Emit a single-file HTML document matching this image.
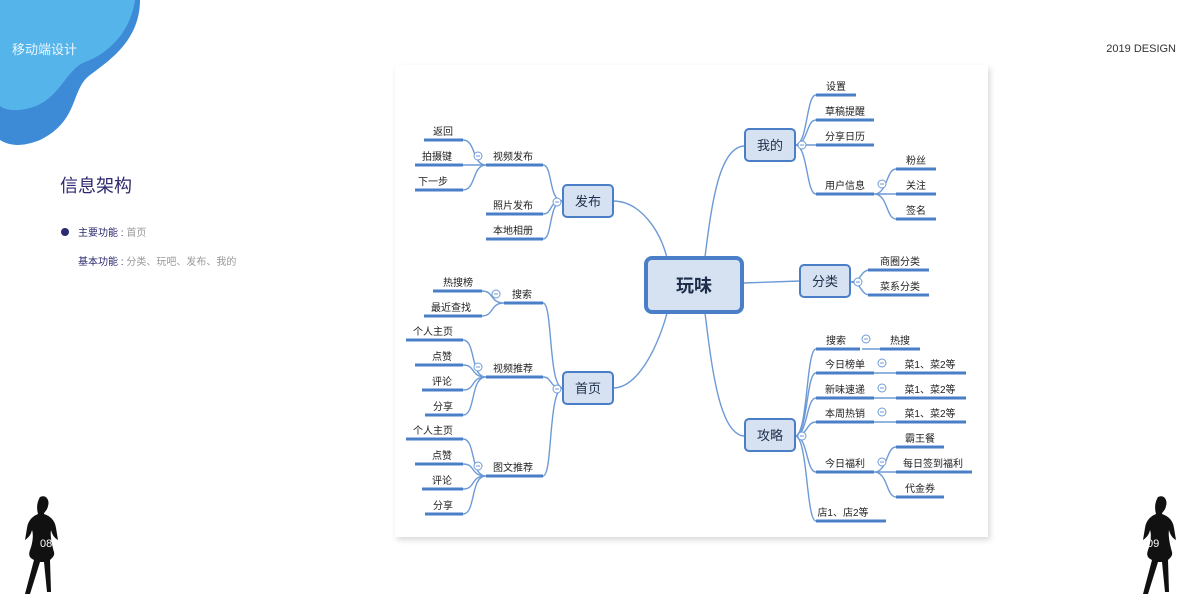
<!DOCTYPE html>
<html><head><meta charset="utf-8"><style>
html,body{margin:0;padding:0;background:#fff;}
svg{display:block;font-family:"Liberation Sans","Noto Sans CJK SC",sans-serif;}
.l{stroke:#4a7fc8;stroke-width:3;}
.c{fill:none;stroke:#6d9ad6;stroke-width:1.4;}
.t{font-size:10px;fill:#222;text-anchor:middle;}
.n{fill:#d6e2f2;stroke:#4a7fc8;stroke-width:2;}
.nt{font-size:13px;fill:#1d2d4a;text-anchor:middle;}
.o{fill:#fff;stroke:#6d9ad6;stroke-width:1;}
</style></head><body>
<svg width="1200" height="600" viewBox="0 0 1200 600">
<defs><filter id="sh" x="-5%" y="-5%" width="110%" height="110%"><feDropShadow dx="2" dy="3" stdDeviation="3" flood-color="#000" flood-opacity="0.15"/></filter>
<g id="m"><circle class="o" cx="0" cy="0" r="4"/><line x1="-2" y1="0" x2="2" y2="0" stroke="#6d9ad6" stroke-width="1"/></g></defs>
<!-- blob -->
<path d="M0 0 H140 C140 40 110 60 90 75 C70 90 80 120 40 140 C20 148 8 145 0 140 Z" fill="#3d8bd6"/>
<path d="M0 0 H135 C130 35 105 55 85 62 C65 70 60 100 30 108 C15 112 5 110 0 106 Z" fill="#55b4ea"/>
<text x="12" y="54" font-size="13" fill="#eaf6ff">移动端设计</text>
<text x="1176" y="52" font-size="11" fill="#333" text-anchor="end">2019 DESIGN</text>
<text x="60" y="192" font-size="18" fill="#2d2a6e">信息架构</text>
<circle cx="65" cy="232" r="4" fill="#2d2a6e"/>
<text x="78" y="236" font-size="10" fill="#2d2a6e">主要功能 : <tspan fill="#999">首页</tspan></text>
<text x="78" y="265" font-size="10" fill="#2d2a6e">基本功能 : <tspan fill="#999">分类、玩吧、发布、我的</tspan></text>
<!-- silhouettes -->
<g fill="#111">
<path d="M40 497 C46 494 50 500 48 506 C47 511 44 512 44 514 C50 516 55 520 56 528 L58 540 C54 538 52 534 51 530 C50 536 52 545 54 552 C55 556 52 558 50 560 L51 592 L47 592 L44 562 L40 562 L30 594 L25 594 L34 560 C30 558 28 556 30 550 C32 545 34 536 32 530 C31 535 28 538 25 540 L27 528 C28 520 33 516 38 514 C37 510 36 504 40 497Z"/>
<path d="M1158 497 C1164 494 1168 500 1166 506 C1165 511 1162 512 1162 514 C1168 516 1173 520 1174 528 L1176 540 C1172 538 1170 534 1169 530 C1168 536 1170 545 1172 552 C1173 556 1170 558 1168 560 L1169 592 L1165 592 L1162 562 L1158 562 L1148 594 L1143 594 L1152 560 C1148 558 1146 556 1148 550 C1150 545 1152 536 1150 530 C1149 535 1146 538 1143 540 L1145 528 C1146 520 1151 516 1156 514 C1155 510 1154 504 1158 497Z"/>
</g>
<text x="40" y="547" font-size="11" fill="#fff">08</text>
<text x="1147" y="547" font-size="11" fill="#fff">09</text>
<!-- panel -->
<rect x="395" y="65" width="593" height="472" fill="#fff" filter="url(#sh)"/>
<!-- main connectors -->
<path class="c" d="M613 201 C640 201 660 230 667 258"/>
<path class="c" d="M613 388 C640 388 660 340 667 313"/>
<path class="c" d="M705 257 C712 200 720 146 745 146"/>
<path class="c" d="M705 313 C712 370 720 436 745 436"/>
<path class="c" d="M743 283 L800 281"/>
<!-- 发布 subtree -->
<path class="c" d="M563 201 C548 201 553 165 543 165 M563 201 C548 201 553 214 543 214 M563 201 C548 201 553 239 543 239"/>
<path class="c" d="M486 165 C472 165 476 140 463 140 M486 165 L463 165 M486 165 C472 165 476 190 463 190"/>
<g class="l"><line x1="424" y1="140" x2="463" y2="140"/><line x1="415" y1="165" x2="463" y2="165"/><line x1="415" y1="190" x2="463" y2="190"/>
<line x1="486" y1="165" x2="543" y2="165"/><line x1="486" y1="214" x2="543" y2="214"/><line x1="486" y1="239" x2="543" y2="239"/></g>
<g class="t"><text x="443" y="135">返回</text><text x="437" y="160">拍摄键</text><text x="433" y="185">下一步</text>
<text x="513" y="160">视频发布</text><text x="513" y="209">照片发布</text><text x="513" y="234">本地相册</text></g>
<use href="#m" x="478" y="156"/><use href="#m" x="557" y="202"/>
<rect class="n" x="563" y="185" width="50" height="32" rx="4"/><text class="nt" x="588" y="206">发布</text>
<!-- 首页 subtree -->
<path class="c" d="M563 388 C548 388 553 303 543 303 M563 388 C548 388 553 377 543 377 M563 388 C548 388 553 476 543 476"/>
<path class="c" d="M504 303 C490 303 494 291 482 291 M504 303 C490 303 494 316 482 316"/>
<path class="c" d="M486 377 C470 377 476 340 463 340 M486 377 C470 377 476 365 463 365 M486 377 C470 377 476 390 463 390 M486 377 C470 377 476 415 463 415"/>
<path class="c" d="M486 476 C470 476 476 439 463 439 M486 476 C470 476 476 464 463 464 M486 476 C470 476 476 489 463 489 M486 476 C470 476 476 514 463 514"/>
<g class="l"><line x1="433" y1="291" x2="482" y2="291"/><line x1="424" y1="316" x2="482" y2="316"/><line x1="504" y1="303" x2="543" y2="303"/>
<line x1="406" y1="340" x2="463" y2="340"/><line x1="415" y1="365" x2="463" y2="365"/><line x1="422" y1="390" x2="463" y2="390"/><line x1="425" y1="415" x2="463" y2="415"/>
<line x1="486" y1="377" x2="543" y2="377"/>
<line x1="406" y1="439" x2="463" y2="439"/><line x1="415" y1="464" x2="463" y2="464"/><line x1="422" y1="489" x2="463" y2="489"/><line x1="425" y1="514" x2="463" y2="514"/>
<line x1="486" y1="476" x2="543" y2="476"/></g>
<g class="t"><text x="458" y="286">热搜榜</text><text x="451" y="311">最近查找</text><text x="522" y="298">搜索</text>
<text x="433" y="335">个人主页</text><text x="442" y="360">点赞</text><text x="442" y="385">评论</text><text x="443" y="410">分享</text><text x="513" y="372">视频推荐</text>
<text x="433" y="434">个人主页</text><text x="442" y="459">点赞</text><text x="442" y="484">评论</text><text x="443" y="509">分享</text><text x="513" y="471">图文推荐</text></g>
<use href="#m" x="496" y="294"/><use href="#m" x="478" y="367"/><use href="#m" x="478" y="466"/><use href="#m" x="557" y="389"/>
<rect class="n" x="563" y="372" width="50" height="32" rx="4"/><text class="nt" x="588" y="393">首页</text>
<!-- center -->
<rect x="646" y="258" width="96" height="54" rx="6" fill="#d6e2f2" stroke="#4a7fc8" stroke-width="4"/>
<text x="694" y="292" font-size="18" font-weight="bold" fill="#1d2d4a" text-anchor="middle">玩味</text>
<!-- 我的 -->
<path class="c" d="M795 145 C808 145 806 95 816 95 M795 145 C808 145 806 120 816 120 M795 145 L816 145 M795 145 C808 145 806 194 816 194"/>
<path class="c" d="M874 194 C888 194 886 169 896 169 M874 194 L896 194 M874 194 C888 194 886 219 896 219"/>
<g class="l"><line x1="816" y1="95" x2="856" y2="95"/><line x1="816" y1="120" x2="874" y2="120"/><line x1="816" y1="145" x2="874" y2="145"/><line x1="816" y1="194" x2="874" y2="194"/>
<line x1="896" y1="169" x2="936" y2="169"/><line x1="896" y1="194" x2="936" y2="194"/><line x1="896" y1="219" x2="936" y2="219"/></g>
<g class="t"><text x="836" y="90">设置</text><text x="845" y="115">草稿提醒</text><text x="845" y="140">分享日历</text><text x="845" y="189">用户信息</text>
<text x="916" y="164">粉丝</text><text x="916" y="189">关注</text><text x="916" y="214">签名</text></g>
<use href="#m" x="802" y="145"/><use href="#m" x="882" y="184"/>
<rect class="n" x="745" y="129" width="50" height="32" rx="4"/><text class="nt" x="770" y="150">我的</text>
<!-- 分类 -->
<path class="c" d="M850 282 C862 282 860 270 870 270 M850 282 C862 282 860 295 870 295"/>
<g class="l"><line x1="868" y1="270" x2="929" y2="270"/><line x1="868" y1="295" x2="929" y2="295"/></g>
<g class="t"><text x="900" y="265">商圈分类</text><text x="900" y="290">菜系分类</text></g>
<use href="#m" x="858" y="282"/>
<rect class="n" x="800" y="265" width="50" height="32" rx="4"/><text class="nt" x="825" y="286">分类</text>
<!-- 攻略 -->
<path class="c" d="M795 436 C808 436 806 349 816 349 M795 436 C808 436 806 373 816 373 M795 436 C808 436 806 398 816 398 M795 436 C808 436 806 422 816 422 M795 436 C808 436 806 472 816 472 M795 436 C808 436 806 521 816 521"/>
<path class="c" d="M862 349 L880 349 M874 373 L896 373 M874 398 L896 398 M874 422 L896 422 M874 472 C888 472 886 447 896 447 M874 472 L896 472 M874 472 C888 472 886 497 896 497"/>
<g class="l"><line x1="816" y1="349" x2="860" y2="349"/><line x1="880" y1="349" x2="920" y2="349"/>
<line x1="816" y1="373" x2="874" y2="373"/><line x1="896" y1="373" x2="966" y2="373"/>
<line x1="816" y1="398" x2="874" y2="398"/><line x1="896" y1="398" x2="966" y2="398"/>
<line x1="816" y1="422" x2="874" y2="422"/><line x1="896" y1="422" x2="966" y2="422"/>
<line x1="816" y1="472" x2="874" y2="472"/><line x1="896" y1="447" x2="944" y2="447"/><line x1="896" y1="472" x2="972" y2="472"/><line x1="896" y1="497" x2="944" y2="497"/>
<line x1="816" y1="521" x2="886" y2="521"/></g>
<g class="t"><text x="836" y="344">搜索</text><text x="900" y="344">热搜</text>
<text x="845" y="368">今日榜单</text><text x="930" y="368">菜1、菜2等</text>
<text x="845" y="393">新味速递</text><text x="930" y="393">菜1、菜2等</text>
<text x="845" y="417">本周热销</text><text x="930" y="417">菜1、菜2等</text>
<text x="845" y="467">今日福利</text><text x="920" y="442">霸王餐</text><text x="933" y="467">每日签到福利</text><text x="920" y="492">代金券</text>
<text x="843" y="516">店1、店2等</text></g>
<use href="#m" x="866" y="339"/><use href="#m" x="882" y="363"/><use href="#m" x="882" y="388"/><use href="#m" x="882" y="412"/><use href="#m" x="882" y="462"/><use href="#m" x="802" y="436"/>
<rect class="n" x="745" y="419" width="50" height="32" rx="4"/><text class="nt" x="770" y="440">攻略</text>
</svg>
</body></html>
